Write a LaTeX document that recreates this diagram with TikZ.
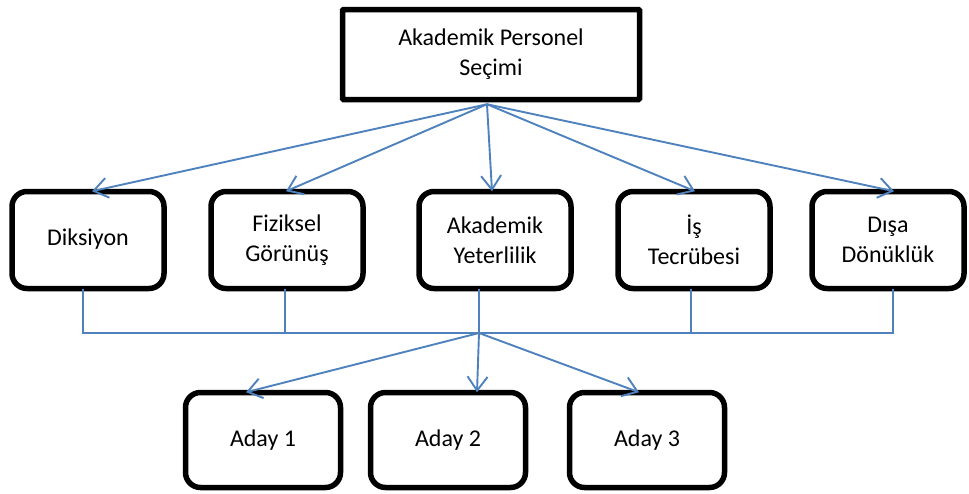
\documentclass[tikz,border=0pt]{standalone}
\usepackage{fontspec}
\setmainfont{Carlito}
\usetikzlibrary{arrows.meta}
\definecolor{linkblue}{HTML}{4F81BD}
\tikzset{
  box/.style={draw=black, line width=5.5pt, rounded corners=15pt, fill=white,
    minimum width=152pt, minimum height=97pt, align=center, inner sep=0pt,
    font=\fontsize{24}{30}\selectfont},
  topbox/.style={box, rounded corners=1pt, minimum width=297pt, minimum height=90pt},
  candbox/.style={box, minimum width=155pt, minimum height=95pt},
  link/.style={draw=linkblue, line width=1.9pt},
  arr/.style={link, -{Straight Barb[length=14pt,width=20pt,line width=1.9pt]}},
}
\begin{document}
\begin{tikzpicture}[x=1pt,y=-1pt]
\useasboundingbox (0,0) rectangle (969,493);
\node[topbox] (top) at (491,54.5) {Akademik Personel\\Seçimi};
\node[box] (dik) at (88,240) {\raisebox{6pt}{Diksiyon}};
\node[box] (fiz) at (287,240) {Fiziksel\\Görünüş};
\node[box] (aka) at (495,240) {Akademik\\Yeterlilik};
\node[box] (is) at (694,240) {İş\\Tecrübesi};
\node[box] (disa) at (888,240) {Dışa\\Dönüklük};
\node[candbox] (a1) at (263,440) {Aday 1};
\node[candbox] (a2) at (448,440) {Aday 2};
\node[candbox] (a3) at (647,440) {Aday 3};
\coordinate (hub) at (479,333);
% top to criteria
\draw[arr] ([xshift=-4pt,yshift=-2pt]top.south) -- ([xshift=4pt,yshift=-2.5pt]dik.north);
\draw[arr] ([xshift=-4pt,yshift=-2pt]top.south) -- ([xshift=-1pt,yshift=-2.5pt]fiz.north);
\draw[arr] ([xshift=-4pt,yshift=-2pt]top.south) -- ([xshift=-3pt,yshift=-2.5pt]aka.north);
\draw[arr] ([xshift=-4pt,yshift=-2pt]top.south) -- ([xshift=1pt,yshift=-2.5pt]is.north);
\draw[arr] ([xshift=-4pt,yshift=-2pt]top.south) -- ([xshift=6pt,yshift=-2.5pt]disa.north);
% criteria to hub
\draw[link] ([xshift=-5pt,yshift=2.5pt]dik.south) |- (hub);
\draw[link] ([xshift=-2pt,yshift=2.5pt]fiz.south) |- (hub);
\draw[link] ([xshift=-16pt,yshift=2.5pt]aka.south) -- (hub);
\draw[link] ([xshift=-3pt,yshift=2.5pt]is.south) |- (hub);
\draw[link] ([xshift=5pt,yshift=2.5pt]disa.south) |- (hub);
% hub to candidates
\draw[arr] (hub) -- ([xshift=-17pt,yshift=-2.5pt]a1.north);
\draw[arr] (hub) -- ([xshift=29pt,yshift=-2.5pt]a2.north);
\draw[arr] (hub) -- ([xshift=-8pt,yshift=-2.5pt]a3.north);
\end{tikzpicture}
\end{document}
